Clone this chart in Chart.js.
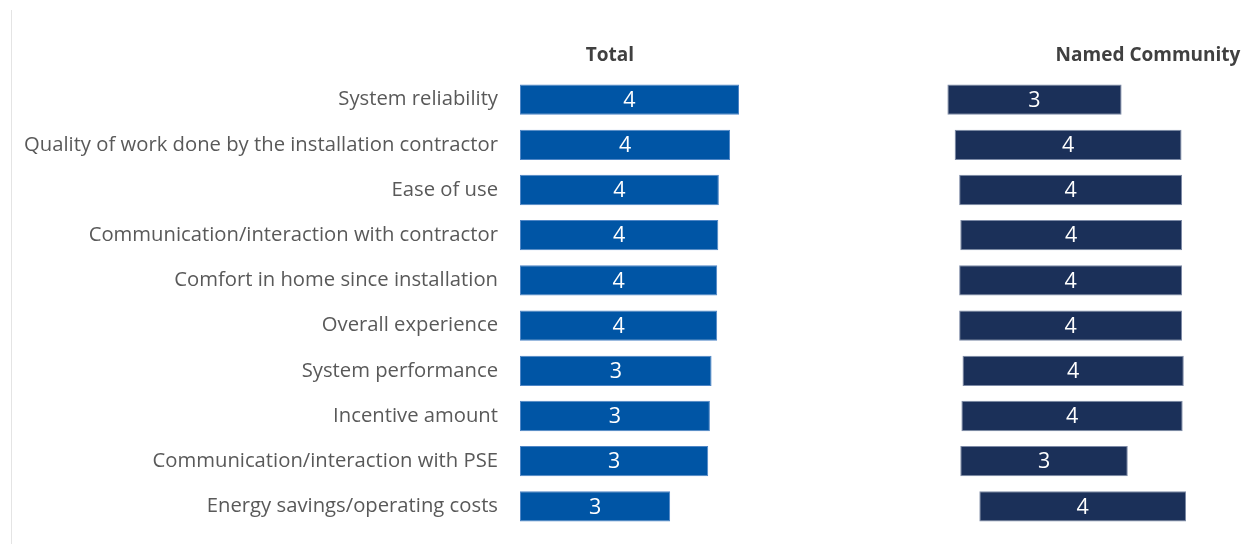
<!DOCTYPE html>
<html lang="en">
<head>
<meta charset="UTF-8">
<title>Satisfaction ratings</title>
<style>
  body { margin: 0; background: #ffffff; }
  .wrap { position: relative; width: 1251px; height: 544px; }
  .edge { position: absolute; left: 11px; top: 10px; bottom: 0; width: 1px; background: #e4e4e4; }
  canvas { display: block; }
</style>
<script src="https://cdn.jsdelivr.net/npm/chart.js"></script>
</head>
<body>
<div class="wrap">
  <div class="edge"></div>
  <canvas id="chart" width="1251" height="544"></canvas>
</div>
<script>
const categories = [
  'System reliability',
  'Quality of work done by the installation contractor',
  'Ease of use',
  'Communication/interaction with contractor',
  'Comfort in home since installation',
  'Overall experience',
  'System performance',
  'Incentive amount',
  'Communication/interaction with PSE',
  'Energy savings/operating costs'
];
const totalScores = [3.91, 3.75, 3.55, 3.54, 3.52, 3.52, 3.42, 3.39, 3.36, 2.68];
const communityScores = [3.11, 4.05, 3.98, 3.96, 3.98, 3.98, 3.95, 3.95, 2.99, 3.69];
// leading blank part of each Named Community bar
const communityOffset = [0.13, 0.26, 0.34, 0.36, 0.34, 0.34, 0.40, 0.38, 0.36, 0.70];
const panelTitles = ['Total', 'Named Community'];

const FONT = '"Open Sans", "Noto Sans", sans-serif';

// white score printed in the middle of each bar
const barLabels = {
  id: 'barLabels',
  afterDatasetsDraw(chart) {
    const ctx = chart.ctx;
    ctx.save();
    ctx.fillStyle = '#ffffff';
    ctx.font = '21.5px ' + FONT;
    ctx.textAlign = 'center';
    ctx.textBaseline = 'middle';
    chart.data.datasets.forEach((ds, i) => {
      chart.getDatasetMeta(i).data.forEach((bar, j) => {
        const p = bar.getCenterPoint();
        ctx.fillText(ds.scores[j].toFixed(0), p.x, p.y + 1);
      });
    });
    ctx.restore();
  }
};

// panel headings above each group of bars
const headings = {
  id: 'headings',
  afterDraw(chart) {
    const ctx = chart.ctx;
    ctx.save();
    ctx.fillStyle = '#404040';
    ctx.font = 'bold 19px ' + FONT;
    ctx.textAlign = 'center';
    ctx.textBaseline = 'middle';
    ctx.fillText(panelTitles[0], 610, 56);
    ctx.fillText(panelTitles[1], 1148, 56);
    ctx.restore();
  }
};

const hiddenAxis = {
  position: 'top',
  stack: 'panels',
  min: 0,
  grid: { display: false, drawTicks: false },
  border: { display: false },
  ticks: { display: false }
};

new Chart(document.getElementById('chart'), {
  type: 'bar',
  data: {
    labels: categories,
    datasets: [
      {
        label: panelTitles[0],
        data: totalScores,
        scores: totalScores,
        xAxisID: 'x',
        backgroundColor: '#0055a5',
        borderColor: '#4f86c6',
        borderWidth: 1,
        borderSkipped: false,
        grouped: false,
        barPercentage: 0.67,
        categoryPercentage: 1
      },
      {
        label: panelTitles[1],
        data: communityScores.map((v, i) => [communityOffset[i], communityOffset[i] + v]),
        scores: communityScores,
        xAxisID: 'x2',
        backgroundColor: '#1b3059',
        borderColor: '#7d8aa6',
        borderWidth: 1,
        borderSkipped: false,
        grouped: false,
        barPercentage: 0.67,
        categoryPercentage: 1
      }
    ]
  },
  options: {
    indexAxis: 'y',
    responsive: false,
    animation: false,
    layout: { padding: { left: 0, right: 0, top: 77, bottom: 15 } },
    plugins: {
      legend: { display: false },
      tooltip: { enabled: false }
    },
    scales: {
      y: {
        grid: { display: false, drawTicks: false },
        border: { display: false },
        ticks: { color: '#595959', font: { family: FONT, size: 20.25 }, padding: 22 },
        afterFit(scale) {
          scale.width = 520;
          // labels sit inside the category bands, no extra room needed above/below
          scale.paddingTop = 0;
          scale.paddingBottom = 0;
        }
      },
      // two panels side by side: Total on the left, Named Community on the right
      x: Object.assign({}, hiddenAxis, { max: 7.5, stackWeight: 7.5, weight: 1 }),
      x2: Object.assign({}, hiddenAxis, { max: 5.55, stackWeight: 5.55, weight: 0 })
    }
  },
  plugins: [barLabels, headings]
});
</script>
</body>
</html>
